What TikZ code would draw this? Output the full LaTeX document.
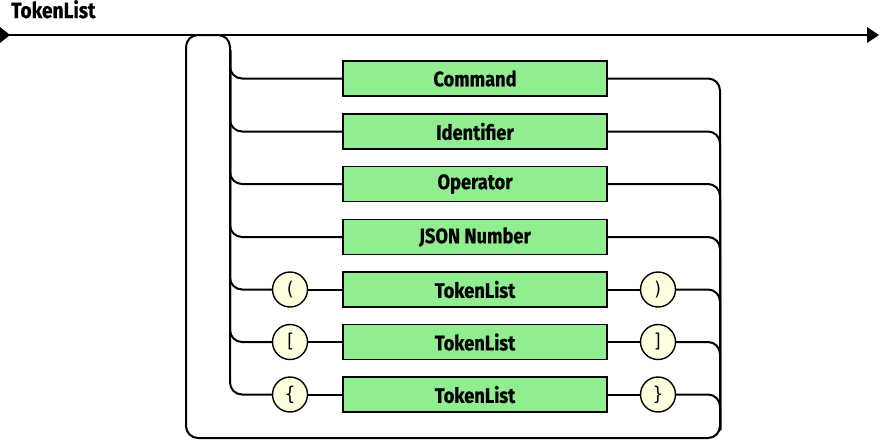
\documentclass[tikz,border=0pt]{standalone}
\usepackage{fontspec}
\setmainfont{Fira Sans}[FakeStretch=0.87, BoldFeatures={FakeBold=0.6}]
\newfontfamily\monof{DejaVu Sans Mono}[FakeStretch=0.9]
\definecolor{ntgreen}{HTML}{90EE90}
\definecolor{termyellow}{HTML}{FFFFE0}
\tikzset{
  rr/.style={line width=2pt, rounded corners=12pt},
  ntbox/.style={draw, fill=ntgreen, line width=1.4pt, minimum width=264pt, minimum height=35pt, inner sep=0pt, font=\bfseries\fontsize{21}{24}\selectfont},
  termc/.style={circle, draw, fill=termyellow, line width=1.4pt, minimum size=35pt, inner sep=0pt, font=\monof\fontsize{19}{22}\selectfont},
  endtri/.style={fill=black}
}
\begin{document}
\begin{tikzpicture}[x=1pt,y=-1pt]
\useasboundingbox (0,0) rectangle (880,442);
\node[anchor=base west, font=\bfseries\fontsize{22}{25}\selectfont, inner sep=0pt] (title) at (11,18) {TokenList};
\coordinate (start) at (0,35);
\coordinate (stop) at (878,35);
\draw[line width=2pt] (start) -- (stop);
\fill[endtri] (0,27) -- (10,35) -- (0,43) -- cycle;
\fill[endtri] (867,27) -- (879,35) -- (867,43) -- cycle;
% boxes
\node[ntbox] (b1) at (475,78.5) {Command};
\node[ntbox] (b2) at (475,131.5) {Identifier};
\node[ntbox] (b3) at (475,184) {Operator};
\node[ntbox] (b4) at (475,237) {JSON Number};
\node[ntbox] (b5) at (475,289.5) {TokenList};
\node[ntbox] (b6) at (475,342) {TokenList};
\node[ntbox] (b7) at (475,394.5) {TokenList};
\node[termc] (l5) at (290,289.5) {(};
\node[termc] (l6) at (290,342) {[};
\node[termc] (l7) at (290,394.5) {\{};
\node[termc] (r5) at (658,289.5) {)};
\node[termc] (r6) at (658,342) {]};
\node[termc] (r7) at (658,394.5) {\}};
% loop
\coordinate (rbot) at (720,438);
\coordinate (lbot) at (186,438);
\coordinate (ltop) at (186,35);
\coordinate (rtop) at (230,35);
\draw[rr] (720,200) -- (rbot) -- (lbot) -- (ltop) -- (rtop) -- (230,200);
% left branches
\foreach \n in {b1,b2,b3,b4,l5,l6,l7}{
  \draw[rr] (230,50) |- (\n.west);
}
% right branches
\foreach \n in {b1,b2,b3,b4,r5,r6,r7}{
  \draw[rr] (\n.east) -| (720,430);
}
\foreach \i in {5,6,7}{
  \draw[line width=2pt] (l\i.east) -- (b\i.west);
  \draw[line width=2pt] (b\i.east) -- (r\i.west);
}
\end{tikzpicture}
\end{document}
